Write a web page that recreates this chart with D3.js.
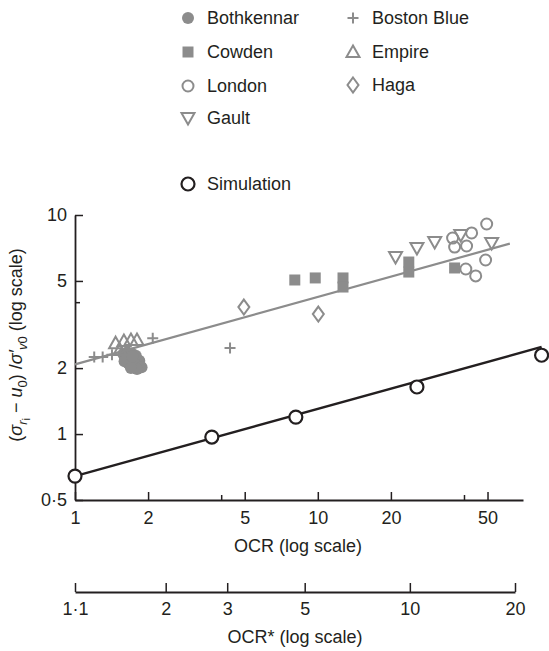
<!DOCTYPE html>
<html>
<head>
<meta charset="utf-8">
<script src="https://cdn.jsdelivr.net/npm/d3@7"></script>
<style>
  body { margin: 0; background: #fff; }
  svg text { font-family: "Liberation Sans", Arial, sans-serif; fill: #231f20; }
</style>
</head>
<body>
<div id="chart"></div>
<script>
// Data (OCR, normalised stress)
var bothkennar = [[1.58, 2.32], [1.64, 2.36], [1.71, 2.33], [1.78, 2.28], [1.62, 2.22], [1.69, 2.18],
  [1.76, 2.20], [1.84, 2.16], [1.66, 2.10], [1.74, 2.07], [1.82, 2.05], [1.60, 2.15],
  [1.72, 2.26], [1.88, 2.02], [1.80, 1.98], [1.70, 2.00]];
var cowden = [[8.04, 5.05], [9.76, 5.16], [12.7, 5.16], [12.7, 4.69], [23.7, 6.10], [23.7, 5.49], [36.6, 5.73]];
var london = [[35.9, 7.85], [43.0, 8.28], [49.6, 9.10], [36.6, 7.14], [41.0, 7.22], [49.1, 6.23], [40.7, 5.67], [44.7, 5.27]];
var gault = [[20.9, 6.43], [25.6, 7.07], [30.3, 7.53], [38.8, 8.11], [52.0, 7.45]];
var bostonBlue = [[1.20, 2.25], [1.30, 2.25], [1.42, 2.30], [2.09, 2.74], [4.35, 2.47]];
var empire = [[1.47, 2.60], [1.59, 2.66], [1.70, 2.69], [1.80, 2.69], [1.53, 2.42]];
var haga = [[4.96, 3.80], [10.05, 3.53]];
var simulation = [[1, 0.643], [3.66, 0.969], [8.12, 1.195], [25.6, 1.64], [83.5, 2.29]];

// Fitted lines (end points)
var fieldFit = [[1, 2.08], [61.8, 7.40]];
var simFit = [[1, 0.643], [83.5, 2.50]];

// Ticks
var ocrTicks = [1, 2, 4, 5, 10, 20, 40, 50];
var ocrLabels = ["1", "2", "", "5", "10", "20", "", "50"];
var ratioTicks = [0.5, 1, 2, 4, 5, 10];
var ratioLabels = ["0·5", "1", "2", "", "5", "10"];
var ocrStarTicks = [1.1, 2, 3, 5, 10, 20];
var ocrStarLabels = ["1·1", "2", "3", "5", "10", "20"];

var grey = "#8c8c8c";
var dark = "#231f20";

var width = 549, height = 651;
var svg = d3.select("#chart")
  .append("svg")
    .attr("width", width)
    .attr("height", height);

// Scales
var x = d3.scaleLog()
  .domain([1, 70])
  .range([75, 523]);
var y = d3.scaleLog()
  .domain([0.5, 10])
  .range([500, 215]);
var xStar = d3.scaleLog()
  .domain([1.1, 20])
  .range([75, 515]);

// Marker shapes
var shapes = {
  circle: { draw: function(c) { c.moveTo(6, 0); c.arc(0, 0, 6, 0, 2 * Math.PI); } },
  ring: { draw: function(c) { c.moveTo(5.5, 0); c.arc(0, 0, 5.5, 0, 2 * Math.PI); } },
  square: { draw: function(c) { c.rect(-5.5, -5.5, 11, 11); } },
  up: { draw: function(c) { c.moveTo(0, -6.5); c.lineTo(6.5, 5); c.lineTo(-6.5, 5); c.closePath(); } },
  down: { draw: function(c) { c.moveTo(0, 6.5); c.lineTo(6.5, -5); c.lineTo(-6.5, -5); c.closePath(); } },
  diamond: { draw: function(c) { c.moveTo(0, -7.5); c.lineTo(5.5, 0); c.lineTo(0, 7.5); c.lineTo(-5.5, 0); c.closePath(); } },
  plus: { draw: function(c) { c.moveTo(-5.5, 0); c.lineTo(5.5, 0); c.moveTo(0, -5.5); c.lineTo(0, 5.5); } }
};

var series = [
  {name: "Bothkennar", data: bothkennar, shape: "circle", filled: true},
  {name: "Cowden", data: cowden, shape: "square", filled: true},
  {name: "London", data: london, shape: "ring", filled: false},
  {name: "Gault", data: gault, shape: "down", filled: false},
  {name: "Boston Blue", data: bostonBlue, shape: "plus", filled: false},
  {name: "Empire", data: empire, shape: "up", filled: false},
  {name: "Haga", data: haga, shape: "diamond", filled: false}
];

function styleMarker(sel, s) {
  sel.attr("d", d3.symbol().type(shapes[s.shape]))
    .attr("fill", s.filled ? grey : "none")
    .attr("stroke", s.filled ? "none" : grey)
    .attr("stroke-width", 2);
}

// Top axis (OCR)
var xAxis = svg.append("g")
  .attr("transform", "translate(0,500)")
  .call(d3.axisBottom(x)
    .tickValues(ocrTicks)
    .tickFormat(function(d, i) { return ocrLabels[i]; })
    .tickSizeInner(-8)
    .tickSizeOuter(0)
    .tickPadding(11));

// Left axis
var yAxis = svg.append("g")
  .attr("transform", "translate(75,0)")
  .call(d3.axisLeft(y)
    .tickValues(ratioTicks)
    .tickFormat(function(d, i) { return ratioLabels[i]; })
    .tickSizeInner(-8)
    .tickSizeOuter(0)
    .tickPadding(8));

// Bottom axis (OCR*)
var xStarAxis = svg.append("g")
  .attr("transform", "translate(0,592)")
  .call(d3.axisBottom(xStar)
    .tickValues(ocrStarTicks)
    .tickFormat(function(d, i) { return ocrStarLabels[i]; })
    .tickSizeInner(-9)
    .tickSizeOuter(0)
    .tickPadding(10));

[xAxis, yAxis, xStarAxis].forEach(function(a) {
  a.select(".domain").attr("stroke", dark).attr("stroke-width", 1.8);
  a.selectAll(".tick line").attr("stroke", dark).attr("stroke-width", 1.5);
  a.selectAll(".tick text")
    .style("font-family", "'Liberation Sans', Arial, sans-serif")
    .style("font-size", "18px")
    .attr("fill", dark);
});
// minor (unlabelled) ticks are shorter
xAxis.selectAll(".tick").filter(function(d) { return d === 4 || d === 40; })
  .select("line").attr("y2", -5);
yAxis.selectAll(".tick").filter(function(d) { return d === 4; })
  .select("line").attr("x2", 5);

// Axis titles
svg.append("text")
  .attr("x", 298)
  .attr("y", 552)
  .attr("text-anchor", "middle")
  .style("font-size", "18px")
  .text("OCR (log scale)");

svg.append("text")
  .attr("x", 295)
  .attr("y", 643)
  .attr("text-anchor", "middle")
  .style("font-size", "18px")
  .text("OCR* (log scale)");

var yTitle = svg.append("text")
  .attr("transform", "translate(22,345) rotate(-90)")
  .attr("text-anchor", "middle")
  .style("font-size", "18px");
yTitle.append("tspan").text("(");
yTitle.append("tspan").style("font-style", "italic").text("σ");
yTitle.append("tspan").attr("dy", 5).style("font-size", "13px").style("font-style", "italic").text("r");
yTitle.append("tspan").attr("dy", 3).style("font-size", "11px").text("i");
yTitle.append("tspan").attr("dy", -8).text(" − ");
yTitle.append("tspan").style("font-style", "italic").text("u");
yTitle.append("tspan").attr("dy", 5).style("font-size", "13px").text("0");
yTitle.append("tspan").attr("dy", -5).text(") /");
yTitle.append("tspan").style("font-style", "italic").text("σ′");
yTitle.append("tspan").attr("dy", 5).style("font-size", "13px").style("font-style", "italic").text("v");
yTitle.append("tspan").style("font-size", "13px").text("0");
yTitle.append("tspan").attr("dy", -5).text(" (log scale)");

// Field data fit line
var line = d3.line()
  .x(function(d) { return x(d[0]); })
  .y(function(d) { return y(d[1]); });

svg.append("path")
  .datum(fieldFit)
  .attr("fill", "none")
  .attr("stroke", grey)
  .attr("stroke-width", 2.2)
  .attr("d", line);

// Field data markers
series.forEach(function(s) {
  svg.append("g")
    .selectAll("path")
    .data(s.data)
    .enter().append("path")
      .attr("transform", function(d) { return "translate(" + x(d[0]) + "," + y(d[1]) + ")"; })
      .call(styleMarker, s);
});

// Simulation
svg.append("path")
  .datum(simFit)
  .attr("fill", "none")
  .attr("stroke", dark)
  .attr("stroke-width", 2.4)
  .attr("d", line);

svg.append("g")
  .selectAll("circle")
  .data(simulation)
  .enter().append("circle")
    .attr("cx", function(d) { return x(d[0]); })
    .attr("cy", function(d) { return y(d[1]); })
    .attr("r", 6.5)
    .attr("fill", "#fff")
    .attr("stroke", dark)
    .attr("stroke-width", 2.2);

// Legend
var legendPos = [[188, 18], [188, 52], [188, 86], [188, 118], [353, 18], [353, 52], [353, 85]];
var legend = svg.append("g")
  .selectAll("g")
  .data(series)
  .enter().append("g")
    .attr("transform", function(d, i) { return "translate(" + legendPos[i][0] + "," + legendPos[i][1] + ")"; });
legend.append("path")
  .each(function(s) { d3.select(this).call(styleMarker, s); });
legend.append("text")
  .attr("x", 19)
  .attr("dy", "0.35em")
  .style("font-size", "18px")
  .text(function(d) { return d.name; });

var simLegend = svg.append("g")
  .attr("transform", "translate(188,184)");
simLegend.append("circle")
  .attr("r", 6.5)
  .attr("fill", "#fff")
  .attr("stroke", dark)
  .attr("stroke-width", 2.2);
simLegend.append("text")
  .attr("x", 19)
  .attr("dy", "0.35em")
  .style("font-size", "18px")
  .text("Simulation");
</script>
</body>
</html>
